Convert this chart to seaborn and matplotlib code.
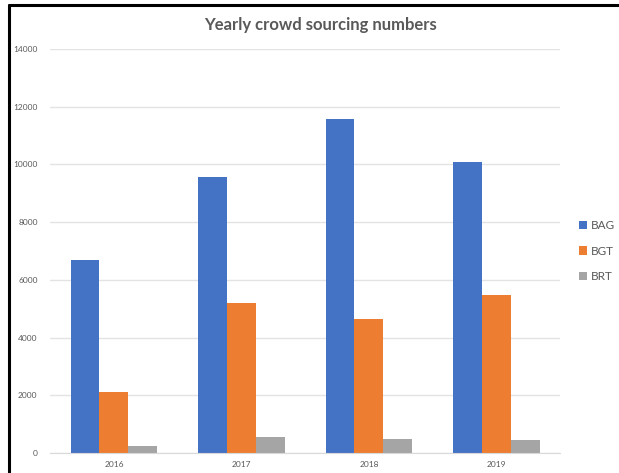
import pandas as pd
import numpy as np
import matplotlib
matplotlib.use('Agg')
import matplotlib.pyplot as plt
import seaborn as sns
from matplotlib.lines import Line2D

# 데이터
years = ['2016', '2017', '2018', '2019']
bag = [6700, 9550, 11570, 10080]
bgt = [2100, 5200, 4650, 5470]
brt = [240, 540, 470, 440]
series = ['BAG', 'BGT', 'BRT']
colors = ['#4472C4', '#ED7D31', '#A5A5A5']

df = pd.DataFrame({'Year': years * 3,
                   'Type': np.repeat(series, len(years)),
                   'Count': bag + bgt + brt})

sns.set_style('white')
plt.rcParams['font.family'] = ['Lato', 'DejaVu Sans']

fig = plt.figure(figsize=(6.19, 4.73), dpi=100)
ax = fig.add_axes([0.081, 0.0423, 0.824, 0.854])

sns.barplot(data=df, x='Year', y='Count', hue='Type', palette=colors,
            width=0.68, saturation=1, linewidth=0, ax=ax, legend=True)

ax.set_ylim(0, 14000)
ax.set_xlim(-0.5, 3.5)
ax.set_yticks(range(0, 14001, 2000))
ax.yaxis.grid(True, color='#E3E3E3', linewidth=1)
ax.set_axisbelow(True)
ax.set_xlabel('')
ax.set_ylabel('')
for s in ['top', 'right', 'left']:
    ax.spines[s].set_visible(False)
ax.spines['bottom'].set_color('#D9D9D9')
ax.tick_params(axis='both', length=0, labelsize=6, colors='#595959', pad=9)
ax.tick_params(axis='x', pad=6)

leg = ax.legend(loc='center left', bbox_to_anchor=(1.028, 0.5), frameon=False,
                fontsize=8.5, handlelength=0.7, handleheight=0.7, handletextpad=0.3,
                labelspacing=1.25, borderaxespad=0)
for t in leg.get_texts():
    t.set_color('#595959')

fig.text(0.517, 0.947, 'Yearly crowd sourcing numbers', ha='center', va='center',
         fontsize=12, fontweight='bold', color='#595959')

# 스크린샷 테두리
fig.add_artist(Line2D([0.0145, 1.0], [0.9895, 0.9895], color='black', linewidth=2.2, transform=fig.transFigure))
fig.add_artist(Line2D([0.0145, 0.0145], [0.0, 0.9895], color='black', linewidth=2.2, transform=fig.transFigure))

fig.savefig('out.png', dpi=100)
plt.close()
